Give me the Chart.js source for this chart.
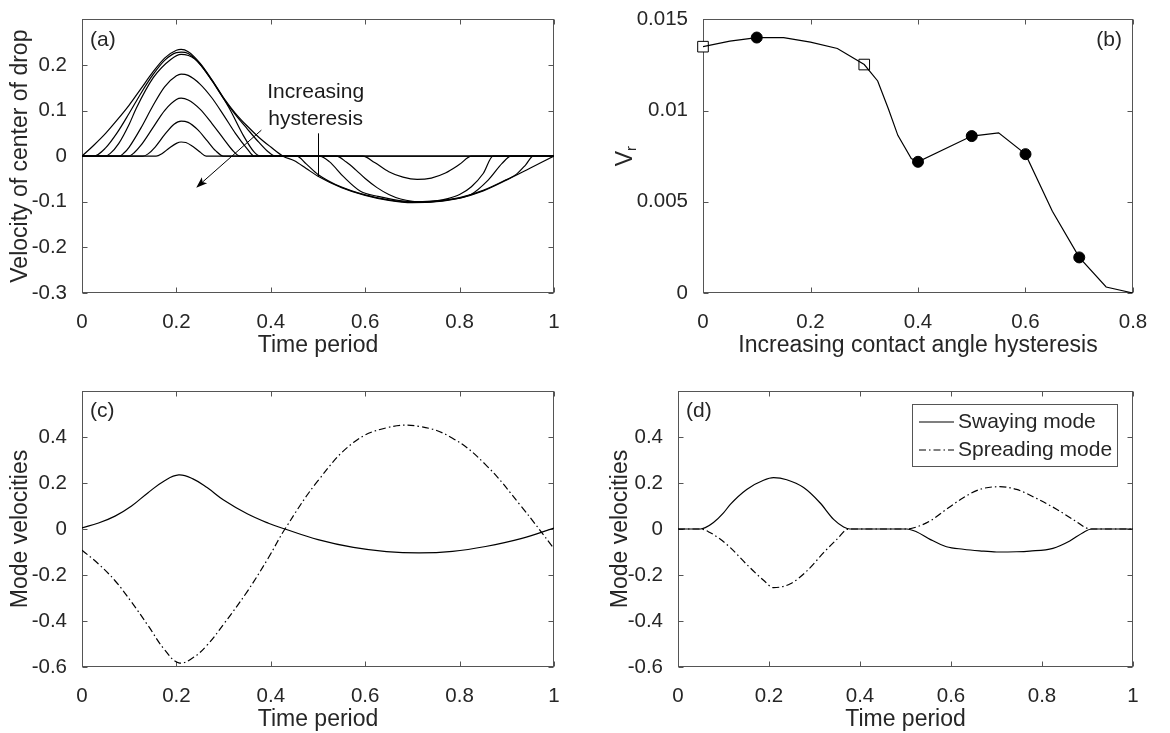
<!DOCTYPE html>
<html>
<head>
<meta charset="utf-8">
<script src="https://cdn.jsdelivr.net/npm/chart.js@4.4.1/dist/chart.umd.min.js"></script>
<style>
html,body{margin:0;padding:0;background:#ffffff;}
body{width:1170px;height:733px;overflow:hidden;position:relative;}
canvas{position:absolute;}
</style>
</head>
<body>
<canvas id="pa"></canvas>
<canvas id="pb"></canvas>
<canvas id="pc"></canvas>
<canvas id="pd"></canvas>
<script>
// ---------------- data: panel (a) velocity of centre of drop ----------------
const timeA0 = [0, 0.025, 0.05, 0.075, 0.1, 0.125, 0.15, 0.175, 0.2, 0.21, 0.225, 0.25, 0.275, 0.3, 0.325, 0.35, 0.375, 0.4, 0.426, 0.45, 0.475, 0.5, 0.55, 0.6, 0.65, 0.7, 0.75, 0.8, 0.85, 0.9, 0.95, 1];
const velA0  = [0, 0.024, 0.05, 0.08, 0.112, 0.148, 0.184, 0.215, 0.232, 0.234, 0.229, 0.204, 0.168, 0.128, 0.094, 0.066, 0.041, 0.02, 0, -0.01, -0.027, -0.044, -0.069, -0.086, -0.097, -0.102, -0.1, -0.092, -0.076, -0.052, -0.026, 0];
const timeA1 = [0, 0.025, 0.05, 0.075, 0.1, 0.125, 0.15, 0.175, 0.2, 0.21, 0.225, 0.25, 0.275, 0.3, 0.325, 0.35, 0.375, 0.395, 0.41, 0.455, 0.475, 0.5, 0.55, 0.6, 0.65, 0.7, 0.75, 0.8, 0.85, 0.9, 0.92, 0.94, 0.956, 1];
const velA1  = [0, 0, 0.018, 0.052, 0.094, 0.138, 0.178, 0.21, 0.227, 0.228, 0.225, 0.202, 0.166, 0.126, 0.091, 0.06, 0.03, 0.009, 0, 0, -0.017, -0.04, -0.068, -0.085, -0.096, -0.101, -0.099, -0.091, -0.075, -0.051, -0.04, -0.019, 0, 0];
const timeA2 = [0, 0.049, 0.06, 0.078, 0.1, 0.115, 0.151, 0.188, 0.21, 0.239, 0.276, 0.312, 0.342, 0.364, 0.378, 0.503, 0.524, 0.554, 0.59, 0.627, 0.7, 0.773, 0.824, 0.861, 0.89, 0.909, 1];
const velA2  = [0, 0, 0.006, 0.028, 0.07, 0.105, 0.172, 0.212, 0.223, 0.213, 0.165, 0.105, 0.045, 0.01, 0, 0, -0.012, -0.045, -0.077, -0.088, -0.1, -0.096, -0.084, -0.052, -0.016, 0, 0];
const timeA3 = [0, 0.079, 0.09, 0.1, 0.125, 0.15, 0.175, 0.2, 0.21, 0.225, 0.25, 0.275, 0.3, 0.325, 0.35, 0.365, 0.539, 0.56, 0.58, 0.6, 0.625, 0.65, 0.675, 0.7, 0.725, 0.75, 0.775, 0.8, 0.825, 0.85, 0.871, 1];
const velA3  = [0, 0, 0.008, 0.02, 0.062, 0.11, 0.152, 0.176, 0.18, 0.177, 0.158, 0.128, 0.09, 0.05, 0.016, 0, 0, -0.013, -0.03, -0.049, -0.069, -0.084, -0.094, -0.099, -0.1, -0.098, -0.093, -0.084, -0.067, -0.038, 0, 0];
const timeA4 = [0, 0.098, 0.11, 0.125, 0.15, 0.175, 0.2, 0.21, 0.225, 0.25, 0.275, 0.3, 0.318, 0.335, 0.595, 0.62, 0.65, 0.68, 0.71, 0.74, 0.77, 0.8, 0.825, 1];
const velA4  = [0, 0, 0.007, 0.024, 0.062, 0.1, 0.124, 0.127, 0.123, 0.103, 0.072, 0.038, 0.014, 0, 0, -0.014, -0.034, -0.046, -0.051, -0.048, -0.037, -0.018, 0, 0];
const timeA5 = [0, 0.129, 0.14, 0.155, 0.175, 0.195, 0.21, 0.225, 0.245, 0.265, 0.283, 0.3, 1];
const velA5  = [0, 0, 0.005, 0.02, 0.047, 0.07, 0.077, 0.074, 0.058, 0.034, 0.012, 0, 0];
const timeA6 = [0, 0.157, 0.17, 0.185, 0.2, 0.21, 0.22, 0.235, 0.25, 0.263, 1];
const velA6  = [0, 0, 0.006, 0.018, 0.028, 0.031, 0.03, 0.021, 0.009, 0, 0];

// ---------------- data: panel (b) V_r vs contact angle hysteresis ----------------
const hystB = [0, 0.05, 0.1, 0.15, 0.2, 0.25, 0.3, 0.325, 0.345, 0.3625, 0.3875, 0.4, 0.5, 0.55, 0.6, 0.65, 0.7, 0.75, 0.8];
const vrB   = [0.0135, 0.0138, 0.014, 0.014, 0.01375, 0.0134, 0.01252, 0.01162, 0.01008, 0.00864, 0.00737, 0.00719, 0.0086, 0.00878, 0.00761, 0.00448, 0.00195, 0.00033, 0];
const hystSquares = [0, 0.3];
const vrSquares   = [0.0135, 0.01252];
const hystCircles = [0.1, 0.4, 0.5, 0.6, 0.7];
const vrCircles   = [0.014, 0.00719, 0.0086, 0.00761, 0.00195];

// ---------------- data: panel (c) mode velocities, no hysteresis ----------------
const timeC   = [0, 0.035, 0.07, 0.105, 0.14, 0.175, 0.205, 0.235, 0.265, 0.3, 0.35, 0.395, 0.43, 0.5, 0.575, 0.645, 0.715, 0.785, 0.855, 0.93, 1];
const swayC   = [0.005, 0.026, 0.056, 0.1, 0.158, 0.21, 0.235, 0.218, 0.18, 0.126, 0.066, 0.025, 0, -0.046, -0.08, -0.098, -0.104, -0.097, -0.076, -0.042, 0.004];
const spreadC = [-0.092, -0.152, -0.225, -0.318, -0.42, -0.525, -0.582, -0.56, -0.505, -0.414, -0.272, -0.125, 0, 0.21, 0.376, 0.44, 0.446, 0.395, 0.28, 0.1, -0.085];

// ---------------- data: panel (d) mode velocities, with hysteresis ----------------
const timeDsway  = [0, 0.049, 0.06, 0.078, 0.1, 0.115, 0.151, 0.188, 0.21, 0.239, 0.276, 0.312, 0.342, 0.364, 0.378, 0.503, 0.524, 0.554, 0.59, 0.627, 0.663, 0.7, 0.744, 0.773, 0.824, 0.861, 0.89, 0.909, 1];
const swayD      = [0, 0, 0.006, 0.028, 0.07, 0.107, 0.172, 0.212, 0.223, 0.214, 0.18, 0.114, 0.042, 0.009, 0, 0, -0.012, -0.045, -0.077, -0.088, -0.095, -0.1, -0.099, -0.096, -0.084, -0.052, -0.016, 0, 0];
const timeDspread = [0, 0.05, 0.07, 0.09, 0.115, 0.151, 0.188, 0.21, 0.247, 0.283, 0.32, 0.349, 0.375, 0.503, 0.53, 0.554, 0.59, 0.627, 0.663, 0.707, 0.744, 0.788, 0.832, 0.868, 0.907, 1];
const spreadD     = [0, 0, -0.015, -0.04, -0.081, -0.154, -0.223, -0.255, -0.238, -0.183, -0.103, -0.045, 0, 0, 0.013, 0.035, 0.086, 0.136, 0.172, 0.184, 0.172, 0.133, 0.086, 0.042, 0, 0];

// ---------------- tick values ----------------
const ticksTime = [0, 0.2, 0.4, 0.6, 0.8, 1];
const ticksVelA = [-0.3, -0.2, -0.1, 0, 0.1, 0.2];
const ticksHyst = [0, 0.2, 0.4, 0.6, 0.8];
const ticksVr   = [0, 0.005, 0.01, 0.015];
const ticksMode = [-0.6, -0.4, -0.2, 0, 0.2, 0.4];

// ---------------- style ----------------
const FONT = "'Liberation Sans', Arial, Helvetica, sans-serif";
const TXT = '#262626';
const AXC = '#555555';
const TICK_PX = 20.5, TITLE_PX = 23, NOTE_PX = 21;
const X_TICK_OFF = 21.5, X_TITLE_OFF = 53;
const DASHDOT = [7, 3, 1.5, 3];
Chart.defaults.font.family = FONT;

function pts(xs, ys) { return xs.map((x, i) => ({ x: x, y: ys[i] })); }
function fmt(v) { return String(+Number(v).toFixed(4)); }
function curve(label, xs, ys, dash, smooth) {
  const d = { label: label, data: pts(xs, ys), borderColor: '#000', borderWidth: 1.2, borderDash: dash || [],
              pointRadius: 0, fill: false };
  if (smooth) { d.tension = 0.4; } else { d.cubicInterpolationMode = 'monotone'; }
  return d;
}

// ---------------- plugins ----------------
const framePlugin = {
  id: 'frame',
  beforeDatasetsDraw(chart) {
    const { ctx, chartArea: a, scales } = chart;
    ctx.save();
    ctx.strokeStyle = AXC; ctx.lineWidth = 1;
    const L = Math.round(a.left) + 0.5, R = Math.round(a.right) - 0.5;
    const T = Math.round(a.top) + 0.5, B = Math.round(a.bottom) - 0.5;
    ctx.strokeRect(L, T, R - L, B - T);
    ctx.beginPath();
    const tl = 5;
    scales.x.ticks.forEach(t => {
      const p = Math.round(scales.x.getPixelForValue(t.value)) + 0.5;
      ctx.moveTo(p, B); ctx.lineTo(p, B - tl); ctx.moveTo(p, T); ctx.lineTo(p, T + tl);
    });
    scales.y.ticks.forEach(t => {
      const p = Math.round(scales.y.getPixelForValue(t.value)) + 0.5;
      ctx.moveTo(L, p); ctx.lineTo(L + tl, p); ctx.moveTo(R, p); ctx.lineTo(R - tl, p);
    });
    ctx.stroke();
    ctx.restore();
  }
};

const tagPlugin = {
  id: 'tag',
  afterDraw(chart, args, o) {
    if (!o || !o.text) return;
    const { ctx, chartArea: a } = chart;
    ctx.save();
    ctx.font = NOTE_PX + 'px ' + FONT; ctx.fillStyle = TXT; ctx.textBaseline = 'middle';
    if (o.side === 'right') { ctx.textAlign = 'right'; ctx.fillText(o.text, a.right - o.dx, a.top + o.dy); }
    else { ctx.textAlign = 'left'; ctx.fillText(o.text, a.left + o.dx, a.top + o.dy); }
    ctx.restore();
  }
};

const notePlugin = {
  id: 'note',
  afterDatasetsDraw(chart, args, o) {
    if (!o || !o.lines) return;
    const { ctx } = chart;
    const sx = chart.scales.x, sy = chart.scales.y;
    const P = (p) => [sx.getPixelForValue(p[0]), sy.getPixelForValue(p[1])];
    ctx.save();
    ctx.fillStyle = '#1a1a1a'; ctx.font = NOTE_PX + 'px ' + FONT;
    ctx.textAlign = 'center'; ctx.textBaseline = 'alphabetic';
    o.lines.forEach(ln => { const q = P(ln.at); ctx.fillText(ln.text, q[0], q[1]); });
    ctx.strokeStyle = '#000'; ctx.lineWidth = 1;
    const p0 = P(o.pointer[0]), p1 = P(o.pointer[1]);
    ctx.beginPath(); ctx.moveTo(Math.round(p0[0]) + 0.5, p0[1]); ctx.lineTo(Math.round(p1[0]) + 0.5, p1[1]); ctx.stroke();
    const a0 = P(o.arrow[0]), a1 = P(o.arrow[1]);
    const ang = Math.atan2(a1[1] - a0[1], a1[0] - a0[0]);
    const hl = 11, hw = 4;
    const bx = a1[0] - hl * Math.cos(ang), by = a1[1] - hl * Math.sin(ang);
    ctx.beginPath(); ctx.moveTo(a0[0], a0[1]); ctx.lineTo(bx + 3 * Math.cos(ang), by + 3 * Math.sin(ang)); ctx.stroke();
    ctx.fillStyle = '#000';
    ctx.beginPath();
    ctx.moveTo(a1[0], a1[1]);
    ctx.lineTo(bx - hw * Math.sin(ang), by + hw * Math.cos(ang));
    ctx.lineTo(bx + 2.5 * Math.cos(ang), by + 2.5 * Math.sin(ang));
    ctx.lineTo(bx + hw * Math.sin(ang), by - hw * Math.cos(ang));
    ctx.closePath(); ctx.fill();
    ctx.restore();
  }
};

const keyPlugin = {
  id: 'keybox',
  afterDraw(chart, args, o) {
    if (!o || !o.show) return;
    const { ctx, chartArea: a } = chart;
    const items = chart.data.datasets.filter(d => d.label);
    ctx.save();
    ctx.font = NOTE_PX + 'px ' + FONT;
    const tw = Math.max.apply(null, items.map(it => ctx.measureText(it.label).width));
    const w = Math.round(o.padL + o.lineLen + o.gap + tw + o.padR), h = o.height;
    const left = Math.round(a.right - o.insetR - w), top = Math.round(a.top + o.insetT);
    ctx.fillStyle = '#fff'; ctx.fillRect(left, top, w, h);
    ctx.strokeStyle = AXC; ctx.lineWidth = 1; ctx.strokeRect(left + 0.5, top + 0.5, w, h);
    items.forEach((it, i) => {
      const yy = top + o.rows[i];
      ctx.strokeStyle = '#000'; ctx.lineWidth = 1.2; ctx.setLineDash(it.borderDash || []);
      ctx.beginPath(); ctx.moveTo(left + o.padL, yy); ctx.lineTo(left + o.padL + o.lineLen, yy); ctx.stroke();
      ctx.setLineDash([]);
      ctx.fillStyle = TXT; ctx.textBaseline = 'middle'; ctx.textAlign = 'left';
      ctx.fillText(it.label, left + o.padL + o.lineLen + o.gap, yy);
    });
    ctx.restore();
  }
};

const subPlugin = {
  id: 'sublabel',
  afterDraw(chart, args, o) {
    if (!o || !o.main) return;
    const { ctx, chartArea: a } = chart;
    ctx.save();
    ctx.translate(o.baseX, (a.top + a.bottom) / 2);
    ctx.rotate(-Math.PI / 2);
    ctx.fillStyle = TXT; ctx.textBaseline = 'alphabetic'; ctx.textAlign = 'left';
    ctx.font = TITLE_PX + 'px ' + FONT;
    const w1 = ctx.measureText(o.main).width;
    ctx.font = o.subPx + 'px ' + FONT;
    const w2 = ctx.measureText(o.sub).width;
    const u0 = -(w1 + w2) / 2;
    ctx.font = TITLE_PX + 'px ' + FONT;
    ctx.fillText(o.main, u0, 0);
    ctx.font = o.subPx + 'px ' + FONT;
    ctx.fillText(o.sub, u0 + w1, o.drop);
    ctx.restore();
  }
};

// ---------------- panel builder ----------------
function buildPanel(cfg) {
  const cv = document.getElementById(cfg.id);
  const b = cfg.box, a = cfg.area;
  cv.width = b.w; cv.height = b.h;
  cv.style.left = b.l + 'px'; cv.style.top = b.t + 'px';
  cv.style.width = b.w + 'px'; cv.style.height = b.h + 'px';
  const titleLH = TITLE_PX * 1.2, tickLH = TICK_PX * 1.2;
  const xTitlePad = (b.t + b.h) - (a.b + X_TITLE_OFF) - titleLH / 2;
  const yTitlePad = cfg.yTitleX - b.l - titleLH / 2;
  const p = cfg.plugins || {};
  return new Chart(cv, {
    type: 'line',
    data: { datasets: cfg.datasets },
    options: {
      responsive: false, animation: false, devicePixelRatio: 1,
      events: [],
      layout: { padding: { left: 0, top: a.t - b.t, right: (b.l + b.w) - a.r, bottom: 0 } },
      plugins: {
        legend: { display: false }, tooltip: { enabled: false },
        tag: p.tag || false, note: p.note || false, keybox: p.keybox || false, sublabel: p.sublabel || false
      },
      scales: {
        x: {
          type: 'linear', min: cfg.xr[0], max: cfg.xr[1],
          afterBuildTicks: s => { s.ticks = cfg.xt.map(v => ({ value: v })); },
          afterFit: s => { s.height = (b.t + b.h) - a.b; },
          grid: { display: false }, border: { display: false },
          ticks: { autoSkip: false, maxRotation: 0, padding: X_TICK_OFF - tickLH / 2, color: TXT,
                   font: { family: FONT, size: TICK_PX }, callback: v => fmt(v) },
          title: { display: true, text: cfg.xTitle, color: TXT, font: { family: FONT, size: TITLE_PX },
                   padding: { top: 0, bottom: xTitlePad } }
        },
        y: {
          type: 'linear', min: cfg.yr[0], max: cfg.yr[1],
          afterBuildTicks: s => { s.ticks = cfg.yt.map(v => ({ value: v })); },
          afterFit: s => { s.width = a.l - b.l; },
          grid: { display: false }, border: { display: false },
          ticks: { autoSkip: false, padding: 7, color: TXT, font: { family: FONT, size: TICK_PX }, callback: v => fmt(v) },
          title: { display: !!cfg.yTitle, text: cfg.yTitle || '', color: TXT, font: { family: FONT, size: TITLE_PX },
                   padding: { top: yTitlePad, bottom: 0 } }
        }
      }
    },
    plugins: [framePlugin, tagPlugin, notePlugin, keyPlugin, subPlugin]
  });
}

// ---------------- panel (a) ----------------
buildPanel({
  id: 'pa', box: { l: 0, t: 0, w: 585, h: 380 }, area: { l: 82, t: 16, r: 554, b: 293 },
  xr: [0, 1], yr: [-0.3, 0.3], xt: ticksTime, yt: ticksVelA,
  xTitle: 'Time period', yTitle: 'Velocity of center of drop', yTitleX: 21,
  datasets: [
    curve('', timeA6, velA6), curve('', timeA5, velA5), curve('', timeA4, velA4),
    curve('', timeA3, velA3), curve('', timeA2, velA2), curve('', timeA1, velA1), curve('', timeA0, velA0)
  ],
  plugins: {
    tag: { text: '(a)', dx: 8, dy: 21 },
    note: {
      lines: [{ text: 'Increasing', at: [0.495, 0.127] }, { text: 'hysteresis', at: [0.495, 0.068] }],
      pointer: [[0.5, 0.05], [0.5, -0.044]],
      arrow: [[0.38, 0.057], [0.242, -0.069]]
    }
  }
});

// ---------------- panel (b) ----------------
buildPanel({
  id: 'pb', box: { l: 585, t: 0, w: 585, h: 380 }, area: { l: 703, t: 16, r: 1133, b: 293 },
  xr: [0, 0.8], yr: [0, 0.015], xt: ticksHyst, yt: ticksVr,
  xTitle: 'Increasing contact angle hysteresis', yTitle: '', yTitleX: 630,
  datasets: [
    { label: '', data: pts(hystB, vrB), borderColor: '#000', borderWidth: 1.2, pointRadius: 0, tension: 0, fill: false },
    { label: '', data: pts(hystCircles, vrCircles), showLine: false, pointStyle: 'circle', pointRadius: 5.5,
      pointBackgroundColor: '#000', pointBorderColor: '#000', pointBorderWidth: 1, clip: false },
    { label: '', data: pts(hystSquares, vrSquares), showLine: false, pointStyle: 'rect', pointRadius: 7.5,
      pointBackgroundColor: '#fff', pointBorderColor: '#000', pointBorderWidth: 1, clip: false }
  ],
  plugins: {
    tag: { text: '(b)', dx: 11, dy: 21, side: 'right' },
    sublabel: { main: 'V', sub: 'r', subPx: 15, drop: 4, baseX: 632 - 585 }
  }
});

// ---------------- panel (c) ----------------
buildPanel({
  id: 'pc', box: { l: 0, t: 366, w: 585, h: 400 }, area: { l: 82, t: 391, r: 554, b: 667 },
  xr: [0, 1], yr: [-0.6, 0.6], xt: ticksTime, yt: ticksMode,
  xTitle: 'Time period', yTitle: 'Mode velocities', yTitleX: 21,
  datasets: [
    curve('Swaying mode', timeC, swayC, null, true),
    curve('Spreading mode', timeC, spreadC, DASHDOT, true)
  ],
  plugins: { tag: { text: '(c)', dx: 8, dy: 20 } }
});

// ---------------- panel (d) ----------------
buildPanel({
  id: 'pd', box: { l: 585, t: 366, w: 585, h: 400 }, area: { l: 678, t: 391, r: 1133, b: 667 },
  xr: [0, 1], yr: [-0.6, 0.6], xt: ticksTime, yt: ticksMode,
  xTitle: 'Time period', yTitle: 'Mode velocities', yTitleX: 621,
  datasets: [
    curve('Swaying mode', timeDsway, swayD),
    curve('Spreading mode', timeDspread, spreadD, DASHDOT)
  ],
  plugins: {
    tag: { text: '(d)', dx: 8, dy: 20 },
    keybox: { show: true, padL: 7, lineLen: 35, gap: 4, padR: 5, height: 62, insetR: 16, insetT: 13, rows: [18, 46] }
  }
});
</script>
</body>
</html>
